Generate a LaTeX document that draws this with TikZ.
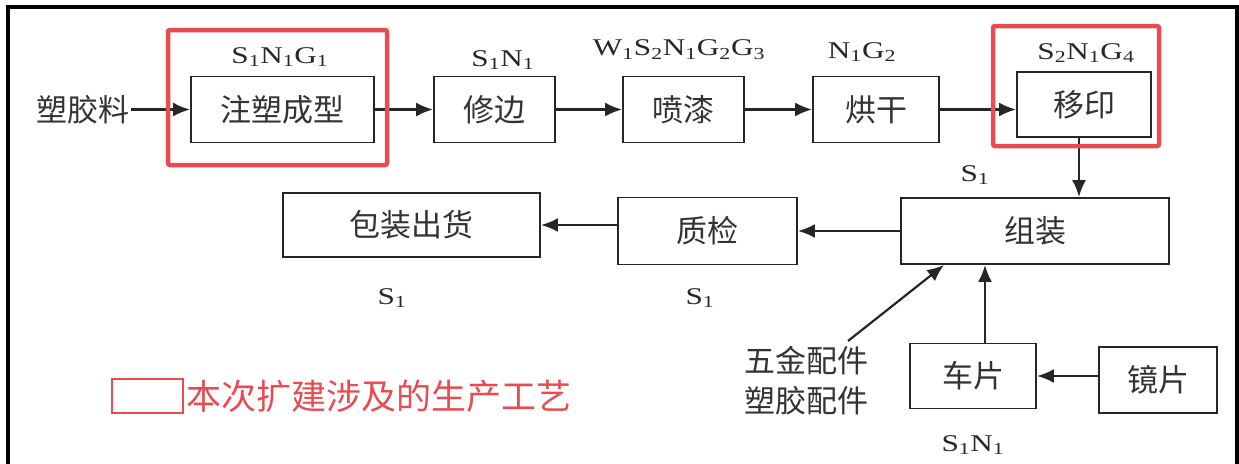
\documentclass[tikz,border=0pt]{standalone}
\usepackage{graphicx}
\usepackage{fontspec}
\setmainfont{Liberation Serif}
\newfontfamily\cjk{Noto Sans CJK SC}
\usetikzlibrary{arrows.meta}
\definecolor{hired}{RGB}{232,76,80}
\newcommand{\sbs}[1]{\textsubscript{#1}}
\newcommand{\wide}[1]{\scalebox{1.3}[1]{#1}}
\def\rowy{109.5}

\begin{document}
\begin{tikzpicture}[x=1pt,y=-1pt,->,>={Latex[length=17pt,width=14pt]},line width=2.2pt,draw=black!85]
    \tikzstyle{stage} = [draw, rectangle, line width=1.9pt, inner sep=0pt, minimum height=66pt, font=\cjk\fontsize{31}{36}\selectfont, text=black!80]
    \tikzstyle{plain} = [inner sep=0pt, font=\cjk\fontsize{31}{36}\selectfont, text=black!80]
    \tikzstyle{annot} = [inner sep=0pt, font=\fontsize{24}{28}\selectfont, text=black!85]
    \tikzstyle{hilite} = [-, draw=hired, line width=4.5pt, rounded corners=2pt]
    \useasboundingbox (0,0) rectangle (1239,463);

    %%% FRAME
    \draw[-, line width=4pt, draw=black] (8,470) -- (8,6.5) -- (1237,6.5) -- (1237,470);

    %%% DRAW THE STAGES
    \node[plain] (raw) at (83,\rowy) {塑胶料};
    \foreach \name / \x / \w / \txt in {inj/282.5/183/注塑成型, trim/494.5/121/修边, paint/683.5/121/喷漆, dry/876/126/烘干}
        \node[stage, minimum width=\w pt] (\name) at (\x,\rowy) {\txt};
    \node[stage, minimum width=134pt, minimum height=65pt] (print) at (1084,104.5) {移印};
    \node[stage, minimum width=268pt] (asm) at (1035,231) {组装};
    \node[stage, minimum width=179pt, minimum height=67pt] (qc) at (707.5,231) {质检};
    \node[stage, minimum width=257pt, minimum height=64pt] (pack) at (411.5,225) {包装出货};
    \node[stage, minimum width=126pt, minimum height=65pt] (car) at (973,376) {车片};
    \node[stage, minimum width=118pt, minimum height=66pt] (lens) at (1158,380) {镜片};
    \node[plain, align=left] (parts) at (806,381) {五金配件\\[4pt]塑胶配件};

    %%% DRAW THE PATHS
    \foreach \source / \dest in {raw/inj, inj/trim, trim/paint, paint/dry}
        \draw (\source) -- (\dest);
    \draw (dry.east) -- (dry.east -| print.west);
    \draw ([xshift=-5pt]print.south) -- ([xshift=-5pt]print.south |- asm.north);
    \draw (asm.west) -- (asm.west -| qc.east);
    \draw (qc.west |- pack.east) -- (pack.east);
    \draw ([xshift=12pt]car.north) -- ([xshift=12pt]car.north |- asm.south);
    \draw (lens.west |- car.east) -- (car.east);
    \coordinate (ptail) at (848,341);
    \draw (ptail) -- ([xshift=44pt]asm.south west);

    %%% ANOTATE
    \node[annot] (l-inj) at (280,57) {\wide{S\sbs1N\sbs1G\sbs1}};
    \node[annot] (l-trim) at (503,60) {\wide{S\sbs1N\sbs1}};
    \node[annot] (l-paint) at (679,50) {\wide{W\sbs1S\sbs2N\sbs1G\sbs2G\sbs3}};
    \node[annot] (l-dry) at (862,52) {\wide{N\sbs1G\sbs2}};
    \node[annot] (l-print) at (1086,53) {\wide{S\sbs2N\sbs1G\sbs4}};
    \node[annot] (l-asm) at (975,175) {\wide{S\sbs1}};
    \node[annot] (l-pack) at (392,298) {\wide{S\sbs1}};
    \node[annot] (l-qc) at (700,298) {\wide{S\sbs1}};
    \node[annot] (l-car) at (973,445) {\wide{S\sbs1N\sbs1}};

    %%% HIGHLIGHT AND LEGEND
    \draw[hilite] (168,30) rectangle (387,165);
    \draw[hilite] (993,26) rectangle (1159,146);
    \draw[hilite, line width=2.5pt, rounded corners=0pt] (112,379) rectangle (183,413);
    \node[inner sep=0pt, anchor=west, text=hired, font=\cjk\fontsize{35}{40}\selectfont] (legend) at (185,396) {本次扩建涉及的生产工艺};

\end{tikzpicture}
\end{document}
